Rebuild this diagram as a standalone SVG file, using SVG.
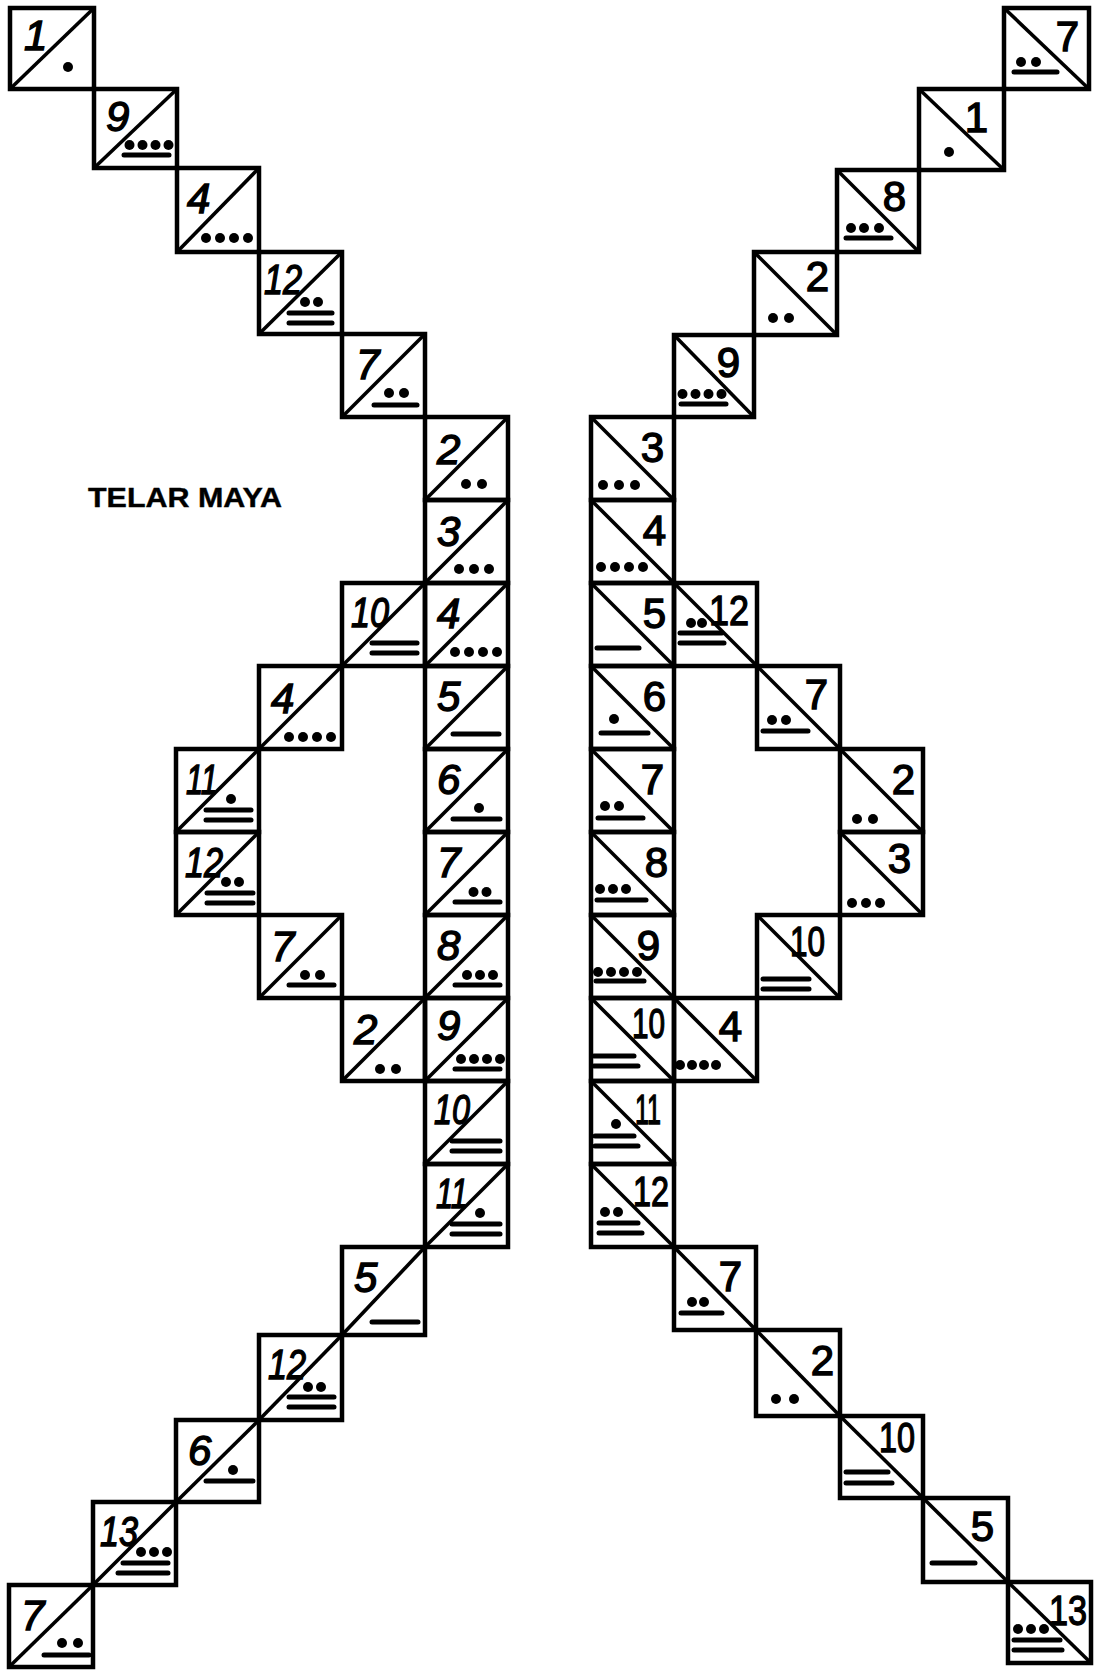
<svg xmlns="http://www.w3.org/2000/svg" width="1096" height="1672" viewBox="0 0 1096 1672">
<style>
.sq{fill:none;stroke:#000;stroke-width:4.5;stroke-linejoin:miter}
.dg{stroke:#000;stroke-width:3.6}
.nl{font-family:"Liberation Sans",Arial,sans-serif;font-size:42px;font-style:italic;fill:#000;stroke:#000;stroke-width:1.4}
.nr{font-family:"Liberation Sans",Arial,sans-serif;font-size:42px;fill:#000;stroke:#000;stroke-width:1.4;text-anchor:end}
.b{stroke:#000;stroke-width:5;stroke-linecap:round}
.d{fill:#000}
.title{font-family:"Liberation Sans",Arial,sans-serif;font-size:28px;font-weight:bold;fill:#000;stroke:#000;stroke-width:0.4}
</style>
<rect width="1096" height="1672" fill="#fff"/>
<text class="title" x="88" y="507" textLength="194" lengthAdjust="spacingAndGlyphs">TELAR MAYA</text>

<g id="left">
<g id="L1"><rect class="sq" x="10" y="8" width="84" height="81"/><line class="dg" x1="10" y1="89" x2="94" y2="8"/><text class="nl" x="24" y="50">1</text><circle class="d" cx="68" cy="67" r="5"/></g>
<g id="L2"><rect class="sq" x="94" y="89" width="83" height="79"/><line class="dg" x1="94" y1="168" x2="177" y2="89"/><text class="nl" x="106" y="131">9</text><line class="b" x1="124" y1="155" x2="169" y2="155"/><circle class="d" cx="129.5" cy="145" r="5"/><circle class="d" cx="142.5" cy="145" r="5"/><circle class="d" cx="155.5" cy="145" r="5"/><circle class="d" cx="168.5" cy="145" r="5"/></g>
<g id="L3"><rect class="sq" x="177" y="168" width="82" height="84"/><line class="dg" x1="177" y1="252" x2="259" y2="168"/><text class="nl" x="187" y="213">4</text><circle class="d" cx="206" cy="238" r="5"/><circle class="d" cx="220" cy="238" r="5"/><circle class="d" cx="234" cy="238" r="5"/><circle class="d" cx="248" cy="238" r="5"/></g>
<g id="L4"><rect class="sq" x="259" y="252" width="83" height="82"/><line class="dg" x1="259" y1="334" x2="342" y2="252"/><text class="nl" x="264" y="294" textLength="38" lengthAdjust="spacingAndGlyphs">12</text><line class="b" x1="289" y1="323" x2="332" y2="323"/><line class="b" x1="289" y1="313" x2="332" y2="313"/><circle class="d" cx="305" cy="302" r="5"/><circle class="d" cx="318" cy="302" r="5"/></g>
<g id="L5"><rect class="sq" x="342" y="334" width="83" height="83"/><line class="dg" x1="342" y1="417" x2="425" y2="334"/><text class="nl" x="356" y="379">7</text><line class="b" x1="374" y1="405" x2="417" y2="405"/><circle class="d" cx="389" cy="393" r="5"/><circle class="d" cx="404" cy="393" r="5"/></g>

<g id="C1"><rect class="sq" x="425" y="417" width="83" height="83"/><line class="dg" x1="425" y1="500" x2="508" y2="417"/><text class="nl" x="437" y="464">2</text><circle class="d" cx="466" cy="484" r="5"/><circle class="d" cx="482" cy="484" r="5"/></g>
<g id="C2"><rect class="sq" x="425" y="500" width="83" height="83"/><line class="dg" x1="425" y1="583" x2="508" y2="500"/><text class="nl" x="437" y="546">3</text><circle class="d" cx="459" cy="569" r="5"/><circle class="d" cx="474" cy="569" r="5"/><circle class="d" cx="489" cy="569" r="5"/></g>
<g id="C3"><rect class="sq" x="425" y="583" width="83" height="83"/><line class="dg" x1="425" y1="666" x2="508" y2="583"/><text class="nl" x="437" y="628">4</text><circle class="d" cx="455" cy="652" r="5"/><circle class="d" cx="469" cy="652" r="5"/><circle class="d" cx="483" cy="652" r="5"/><circle class="d" cx="497" cy="652" r="5"/></g>
<g id="C4"><rect class="sq" x="425" y="666" width="83" height="83"/><line class="dg" x1="425" y1="749" x2="508" y2="666"/><text class="nl" x="437" y="711">5</text><line class="b" x1="453" y1="734" x2="499" y2="734"/></g>
<g id="C5"><rect class="sq" x="425" y="749" width="83" height="83"/><line class="dg" x1="425" y1="832" x2="508" y2="749"/><text class="nl" x="437" y="794">6</text><line class="b" x1="453" y1="819" x2="500" y2="819"/><circle class="d" cx="479" cy="808" r="5"/></g>
<g id="C6"><rect class="sq" x="425" y="832" width="83" height="83"/><line class="dg" x1="425" y1="915" x2="508" y2="832"/><text class="nl" x="437" y="877">7</text><line class="b" x1="455" y1="902" x2="500" y2="902"/><circle class="d" cx="473.5" cy="892" r="5"/><circle class="d" cx="486.5" cy="892" r="5"/></g>
<g id="C7"><rect class="sq" x="425" y="915" width="83" height="83"/><line class="dg" x1="425" y1="998" x2="508" y2="915"/><text class="nl" x="437" y="960">8</text><line class="b" x1="455" y1="985" x2="500" y2="985"/><circle class="d" cx="467" cy="975" r="5"/><circle class="d" cx="480" cy="975" r="5"/><circle class="d" cx="493" cy="975" r="5"/></g>
<g id="C8"><rect class="sq" x="425" y="998" width="83" height="83"/><line class="dg" x1="425" y1="1081" x2="508" y2="998"/><text class="nl" x="437" y="1040">9</text><line class="b" x1="455" y1="1069" x2="500" y2="1069"/><circle class="d" cx="461" cy="1059" r="5"/><circle class="d" cx="474" cy="1059" r="5"/><circle class="d" cx="487" cy="1059" r="5"/><circle class="d" cx="500" cy="1059" r="5"/></g>
<g id="C9"><rect class="sq" x="425" y="1081" width="83" height="83"/><line class="dg" x1="425" y1="1164" x2="508" y2="1081"/><text class="nl" x="434" y="1124" textLength="36" lengthAdjust="spacingAndGlyphs">10</text><line class="b" x1="452" y1="1151" x2="500" y2="1151"/><line class="b" x1="452" y1="1141" x2="500" y2="1141"/></g>
<g id="C10"><rect class="sq" x="425" y="1164" width="83" height="83"/><line class="dg" x1="425" y1="1247" x2="508" y2="1164"/><text class="nl" x="436" y="1208" textLength="32" lengthAdjust="spacingAndGlyphs">11</text><line class="b" x1="452" y1="1234" x2="500" y2="1234"/><line class="b" x1="452" y1="1224" x2="500" y2="1224"/><circle class="d" cx="480" cy="1213" r="5"/></g>

<g id="LL1"><rect class="sq" x="342" y="583" width="83" height="83"/><line class="dg" x1="342" y1="666" x2="425" y2="583"/><text class="nl" x="351" y="627" textLength="38" lengthAdjust="spacingAndGlyphs">10</text><line class="b" x1="372" y1="653" x2="417" y2="653"/><line class="b" x1="372" y1="643" x2="417" y2="643"/></g>
<g id="LL2"><rect class="sq" x="259" y="666" width="83" height="83"/><line class="dg" x1="259" y1="749" x2="342" y2="666"/><text class="nl" x="271" y="713">4</text><circle class="d" cx="289" cy="737" r="5"/><circle class="d" cx="303" cy="737" r="5"/><circle class="d" cx="317" cy="737" r="5"/><circle class="d" cx="331" cy="737" r="5"/></g>
<g id="LL3"><rect class="sq" x="176" y="749" width="83" height="83"/><line class="dg" x1="176" y1="832" x2="259" y2="749"/><text class="nl" x="186" y="794" textLength="32" lengthAdjust="spacingAndGlyphs">11</text><line class="b" x1="206" y1="820" x2="251" y2="820"/><line class="b" x1="206" y1="810" x2="251" y2="810"/><circle class="d" cx="231" cy="799" r="5"/></g>
<g id="LL4"><rect class="sq" x="176" y="832" width="83" height="83"/><line class="dg" x1="176" y1="915" x2="259" y2="832"/><text class="nl" x="185" y="877" textLength="38" lengthAdjust="spacingAndGlyphs">12</text><line class="b" x1="207" y1="903" x2="253" y2="903"/><line class="b" x1="207" y1="893" x2="253" y2="893"/><circle class="d" cx="226" cy="882" r="5"/><circle class="d" cx="239" cy="882" r="5"/></g>
<g id="LL5"><rect class="sq" x="259" y="915" width="83" height="83"/><line class="dg" x1="259" y1="998" x2="342" y2="915"/><text class="nl" x="271" y="961">7</text><line class="b" x1="289" y1="985" x2="334" y2="985"/><circle class="d" cx="305" cy="975" r="5"/><circle class="d" cx="320" cy="975" r="5"/></g>
<g id="LL6"><rect class="sq" x="342" y="998" width="83" height="83"/><line class="dg" x1="342" y1="1081" x2="425" y2="998"/><text class="nl" x="354" y="1044">2</text><circle class="d" cx="380" cy="1069" r="5"/><circle class="d" cx="396" cy="1069" r="5"/></g>

<g id="B1"><rect class="sq" x="342" y="1247" width="83" height="88"/><line class="dg" x1="342" y1="1335" x2="425" y2="1247"/><text class="nl" x="354" y="1292">5</text><line class="b" x1="372" y1="1322" x2="418" y2="1322"/></g>
<g id="B2"><rect class="sq" x="259" y="1335" width="83" height="85"/><line class="dg" x1="259" y1="1420" x2="342" y2="1335"/><text class="nl" x="268" y="1379" textLength="38" lengthAdjust="spacingAndGlyphs">12</text><line class="b" x1="289" y1="1407" x2="334" y2="1407"/><line class="b" x1="289" y1="1397" x2="334" y2="1397"/><circle class="d" cx="308" cy="1387" r="5"/><circle class="d" cx="321" cy="1387" r="5"/></g>
<g id="B3"><rect class="sq" x="176" y="1420" width="83" height="82"/><line class="dg" x1="176" y1="1502" x2="259" y2="1420"/><text class="nl" x="188" y="1465">6</text><line class="b" x1="206" y1="1481" x2="253" y2="1481"/><circle class="d" cx="233" cy="1470" r="5"/></g>
<g id="B4"><rect class="sq" x="93" y="1502" width="83" height="83"/><line class="dg" x1="93" y1="1585" x2="176" y2="1502"/><text class="nl" x="100" y="1546" textLength="38" lengthAdjust="spacingAndGlyphs">13</text><line class="b" x1="118" y1="1573" x2="168" y2="1573"/><line class="b" x1="123" y1="1563" x2="168" y2="1563"/><circle class="d" cx="141" cy="1552" r="5"/><circle class="d" cx="154" cy="1552" r="5"/><circle class="d" cx="167" cy="1552" r="5"/></g>
<g id="B5"><rect class="sq" x="9" y="1585" width="84" height="82"/><line class="dg" x1="9" y1="1667" x2="93" y2="1585"/><text class="nl" x="21" y="1630">7</text><line class="b" x1="44" y1="1655" x2="89" y2="1655"/><circle class="d" cx="62" cy="1643" r="5"/><circle class="d" cx="78" cy="1643" r="5"/></g>
</g>

<g id="right">
<g id="R1"><rect class="sq" x="1004" y="8" width="85" height="81"/><line class="dg" x1="1004" y1="8" x2="1089" y2="89"/><text class="nr" x="1079" y="51">7</text><line class="b" x1="1014" y1="72" x2="1057" y2="72"/><circle class="d" cx="1021" cy="62" r="5"/><circle class="d" cx="1036" cy="62" r="5"/></g>
<g id="R2"><rect class="sq" x="919" y="89" width="85" height="81"/><line class="dg" x1="919" y1="89" x2="1004" y2="170"/><text class="nr" x="988" y="132">1</text><circle class="d" cx="949" cy="152" r="5"/></g>
<g id="R3"><rect class="sq" x="837" y="170" width="82" height="82"/><line class="dg" x1="837" y1="170" x2="919" y2="252"/><text class="nr" x="906" y="211">8</text><line class="b" x1="846" y1="238" x2="891" y2="238"/><circle class="d" cx="851" cy="228" r="5"/><circle class="d" cx="864" cy="228" r="5"/><circle class="d" cx="879" cy="228" r="5"/></g>
<g id="R4"><rect class="sq" x="754" y="252" width="83" height="83"/><line class="dg" x1="754" y1="252" x2="837" y2="335"/><text class="nr" x="829" y="291">2</text><circle class="d" cx="773" cy="318" r="5"/><circle class="d" cx="789" cy="318" r="5"/></g>
<g id="R5"><rect class="sq" x="674" y="335" width="80" height="82"/><line class="dg" x1="674" y1="335" x2="754" y2="417"/><text class="nr" x="740" y="377">9</text><line class="b" x1="681" y1="404" x2="726" y2="404"/><circle class="d" cx="682.5" cy="394" r="5"/><circle class="d" cx="695.5" cy="394" r="5"/><circle class="d" cx="708.5" cy="394" r="5"/><circle class="d" cx="721.5" cy="394" r="5"/></g>

<g id="RC1"><rect class="sq" x="591" y="417" width="83" height="83"/><line class="dg" x1="591" y1="417" x2="674" y2="500"/><text class="nr" x="664" y="462">3</text><circle class="d" cx="603" cy="485" r="5"/><circle class="d" cx="619" cy="485" r="5"/><circle class="d" cx="635" cy="485" r="5"/></g>
<g id="RC2"><rect class="sq" x="591" y="500" width="83" height="83"/><line class="dg" x1="591" y1="500" x2="674" y2="583"/><text class="nr" x="666" y="545">4</text><circle class="d" cx="601" cy="567" r="5"/><circle class="d" cx="615" cy="567" r="5"/><circle class="d" cx="629" cy="567" r="5"/><circle class="d" cx="643" cy="567" r="5"/></g>
<g id="RC3"><rect class="sq" x="591" y="583" width="83" height="83"/><line class="dg" x1="591" y1="583" x2="674" y2="666"/><text class="nr" x="666" y="628">5</text><line class="b" x1="597" y1="648" x2="639" y2="648"/></g>
<g id="RC4"><rect class="sq" x="591" y="666" width="83" height="83"/><line class="dg" x1="591" y1="666" x2="674" y2="749"/><text class="nr" x="666" y="711">6</text><line class="b" x1="601" y1="733" x2="648" y2="733"/><circle class="d" cx="614" cy="719" r="5"/></g>
<g id="RC5"><rect class="sq" x="591" y="749" width="83" height="83"/><line class="dg" x1="591" y1="749" x2="674" y2="832"/><text class="nr" x="664" y="794">7</text><line class="b" x1="598" y1="818" x2="643" y2="818"/><circle class="d" cx="605" cy="806" r="5"/><circle class="d" cx="619" cy="806" r="5"/></g>
<g id="RC6"><rect class="sq" x="591" y="832" width="83" height="83"/><line class="dg" x1="591" y1="832" x2="674" y2="915"/><text class="nr" x="668" y="877">8</text><line class="b" x1="597" y1="900" x2="646" y2="900"/><circle class="d" cx="600" cy="889" r="5"/><circle class="d" cx="613" cy="889" r="5"/><circle class="d" cx="626" cy="889" r="5"/></g>
<g id="RC7"><rect class="sq" x="591" y="915" width="83" height="83"/><line class="dg" x1="591" y1="915" x2="674" y2="998"/><text class="nr" x="660" y="960">9</text><line class="b" x1="596" y1="981" x2="644" y2="981"/><circle class="d" cx="598" cy="972" r="5"/><circle class="d" cx="611" cy="972" r="5"/><circle class="d" cx="624" cy="972" r="5"/><circle class="d" cx="637" cy="972" r="5"/></g>
<g id="RC8"><rect class="sq" x="591" y="998" width="83" height="83"/><line class="dg" x1="591" y1="998" x2="674" y2="1081"/><text class="nr" x="665" y="1038" textLength="33" lengthAdjust="spacingAndGlyphs">10</text><line class="b" x1="594" y1="1066" x2="638" y2="1066"/><line class="b" x1="594" y1="1056" x2="634" y2="1056"/></g>
<g id="RC9"><rect class="sq" x="591" y="1081" width="83" height="83"/><line class="dg" x1="591" y1="1081" x2="674" y2="1164"/><text class="nr" x="661" y="1124" textLength="26" lengthAdjust="spacingAndGlyphs">11</text><line class="b" x1="595" y1="1146" x2="638" y2="1146"/><line class="b" x1="595" y1="1136" x2="634" y2="1136"/><circle class="d" cx="616" cy="1124" r="5"/></g>
<g id="RC10"><rect class="sq" x="591" y="1164" width="83" height="83"/><line class="dg" x1="591" y1="1164" x2="674" y2="1247"/><text class="nr" x="669" y="1206" textLength="36" lengthAdjust="spacingAndGlyphs">12</text><line class="b" x1="599" y1="1233" x2="642" y2="1233"/><line class="b" x1="599" y1="1223" x2="638" y2="1223"/><circle class="d" cx="605" cy="1212" r="5"/><circle class="d" cx="618" cy="1212" r="5"/></g>

<g id="RL1"><rect class="sq" x="674" y="583" width="83" height="83"/><line class="dg" x1="674" y1="583" x2="757" y2="666"/><text class="nr" x="749" y="625" textLength="40" lengthAdjust="spacingAndGlyphs">12</text><line class="b" x1="680" y1="643" x2="724" y2="643"/><line class="b" x1="680" y1="633" x2="722" y2="633"/><circle class="d" cx="691" cy="623" r="5"/><circle class="d" cx="702" cy="623" r="5"/></g>
<g id="RL2"><rect class="sq" x="757" y="666" width="83" height="83"/><line class="dg" x1="757" y1="666" x2="840" y2="749"/><text class="nr" x="828" y="709">7</text><line class="b" x1="763" y1="731" x2="808" y2="731"/><circle class="d" cx="772" cy="720" r="5"/><circle class="d" cx="786" cy="720" r="5"/></g>
<g id="RL3"><rect class="sq" x="840" y="749" width="83" height="83"/><line class="dg" x1="840" y1="749" x2="923" y2="832"/><text class="nr" x="915" y="794">2</text><circle class="d" cx="857" cy="819" r="5"/><circle class="d" cx="873" cy="819" r="5"/></g>
<g id="RL4"><rect class="sq" x="840" y="832" width="83" height="83"/><line class="dg" x1="840" y1="832" x2="923" y2="915"/><text class="nr" x="911" y="873">3</text><circle class="d" cx="852" cy="903" r="5"/><circle class="d" cx="866" cy="903" r="5"/><circle class="d" cx="880" cy="903" r="5"/></g>
<g id="RL5"><rect class="sq" x="757" y="915" width="83" height="83"/><line class="dg" x1="757" y1="915" x2="840" y2="998"/><text class="nr" x="825" y="956" textLength="35" lengthAdjust="spacingAndGlyphs">10</text><line class="b" x1="763" y1="989" x2="809" y2="989"/><line class="b" x1="763" y1="979" x2="809" y2="979"/></g>
<g id="RL6"><rect class="sq" x="674" y="998" width="83" height="83"/><line class="dg" x1="674" y1="998" x2="757" y2="1081"/><text class="nr" x="742" y="1041">4</text><circle class="d" cx="680" cy="1065" r="5"/><circle class="d" cx="692" cy="1065" r="5"/><circle class="d" cx="704" cy="1065" r="5"/><circle class="d" cx="716" cy="1065" r="5"/></g>

<g id="BR1"><rect class="sq" x="674" y="1247" width="82" height="83"/><line class="dg" x1="674" y1="1247" x2="756" y2="1330"/><text class="nr" x="742" y="1291">7</text><line class="b" x1="681" y1="1313" x2="722" y2="1313"/><circle class="d" cx="692" cy="1302" r="5"/><circle class="d" cx="704" cy="1302" r="5"/></g>
<g id="BR2"><rect class="sq" x="756" y="1330" width="84" height="86"/><line class="dg" x1="756" y1="1330" x2="840" y2="1416"/><text class="nr" x="834" y="1375">2</text><circle class="d" cx="776" cy="1399" r="5"/><circle class="d" cx="794" cy="1399" r="5"/></g>
<g id="BR3"><rect class="sq" x="840" y="1416" width="83" height="82"/><line class="dg" x1="840" y1="1416" x2="923" y2="1498"/><text class="nr" x="915" y="1452" textLength="36" lengthAdjust="spacingAndGlyphs">10</text><line class="b" x1="846" y1="1483" x2="892" y2="1483"/><line class="b" x1="846" y1="1472" x2="888" y2="1472"/></g>
<g id="BR4"><rect class="sq" x="923" y="1498" width="85" height="84"/><line class="dg" x1="923" y1="1498" x2="1008" y2="1582"/><text class="nr" x="994" y="1541">5</text><line class="b" x1="932" y1="1563" x2="975" y2="1563"/></g>
<g id="BR5"><rect class="sq" x="1008" y="1582" width="83" height="81"/><line class="dg" x1="1008" y1="1582" x2="1091" y2="1663"/><text class="nr" x="1087" y="1625" textLength="38" lengthAdjust="spacingAndGlyphs">13</text><line class="b" x1="1014" y1="1650" x2="1062" y2="1650"/><line class="b" x1="1014" y1="1640" x2="1060" y2="1640"/><circle class="d" cx="1018" cy="1629" r="5"/><circle class="d" cx="1031" cy="1629" r="5"/><circle class="d" cx="1044" cy="1629" r="5"/></g>
</g>
</svg>
